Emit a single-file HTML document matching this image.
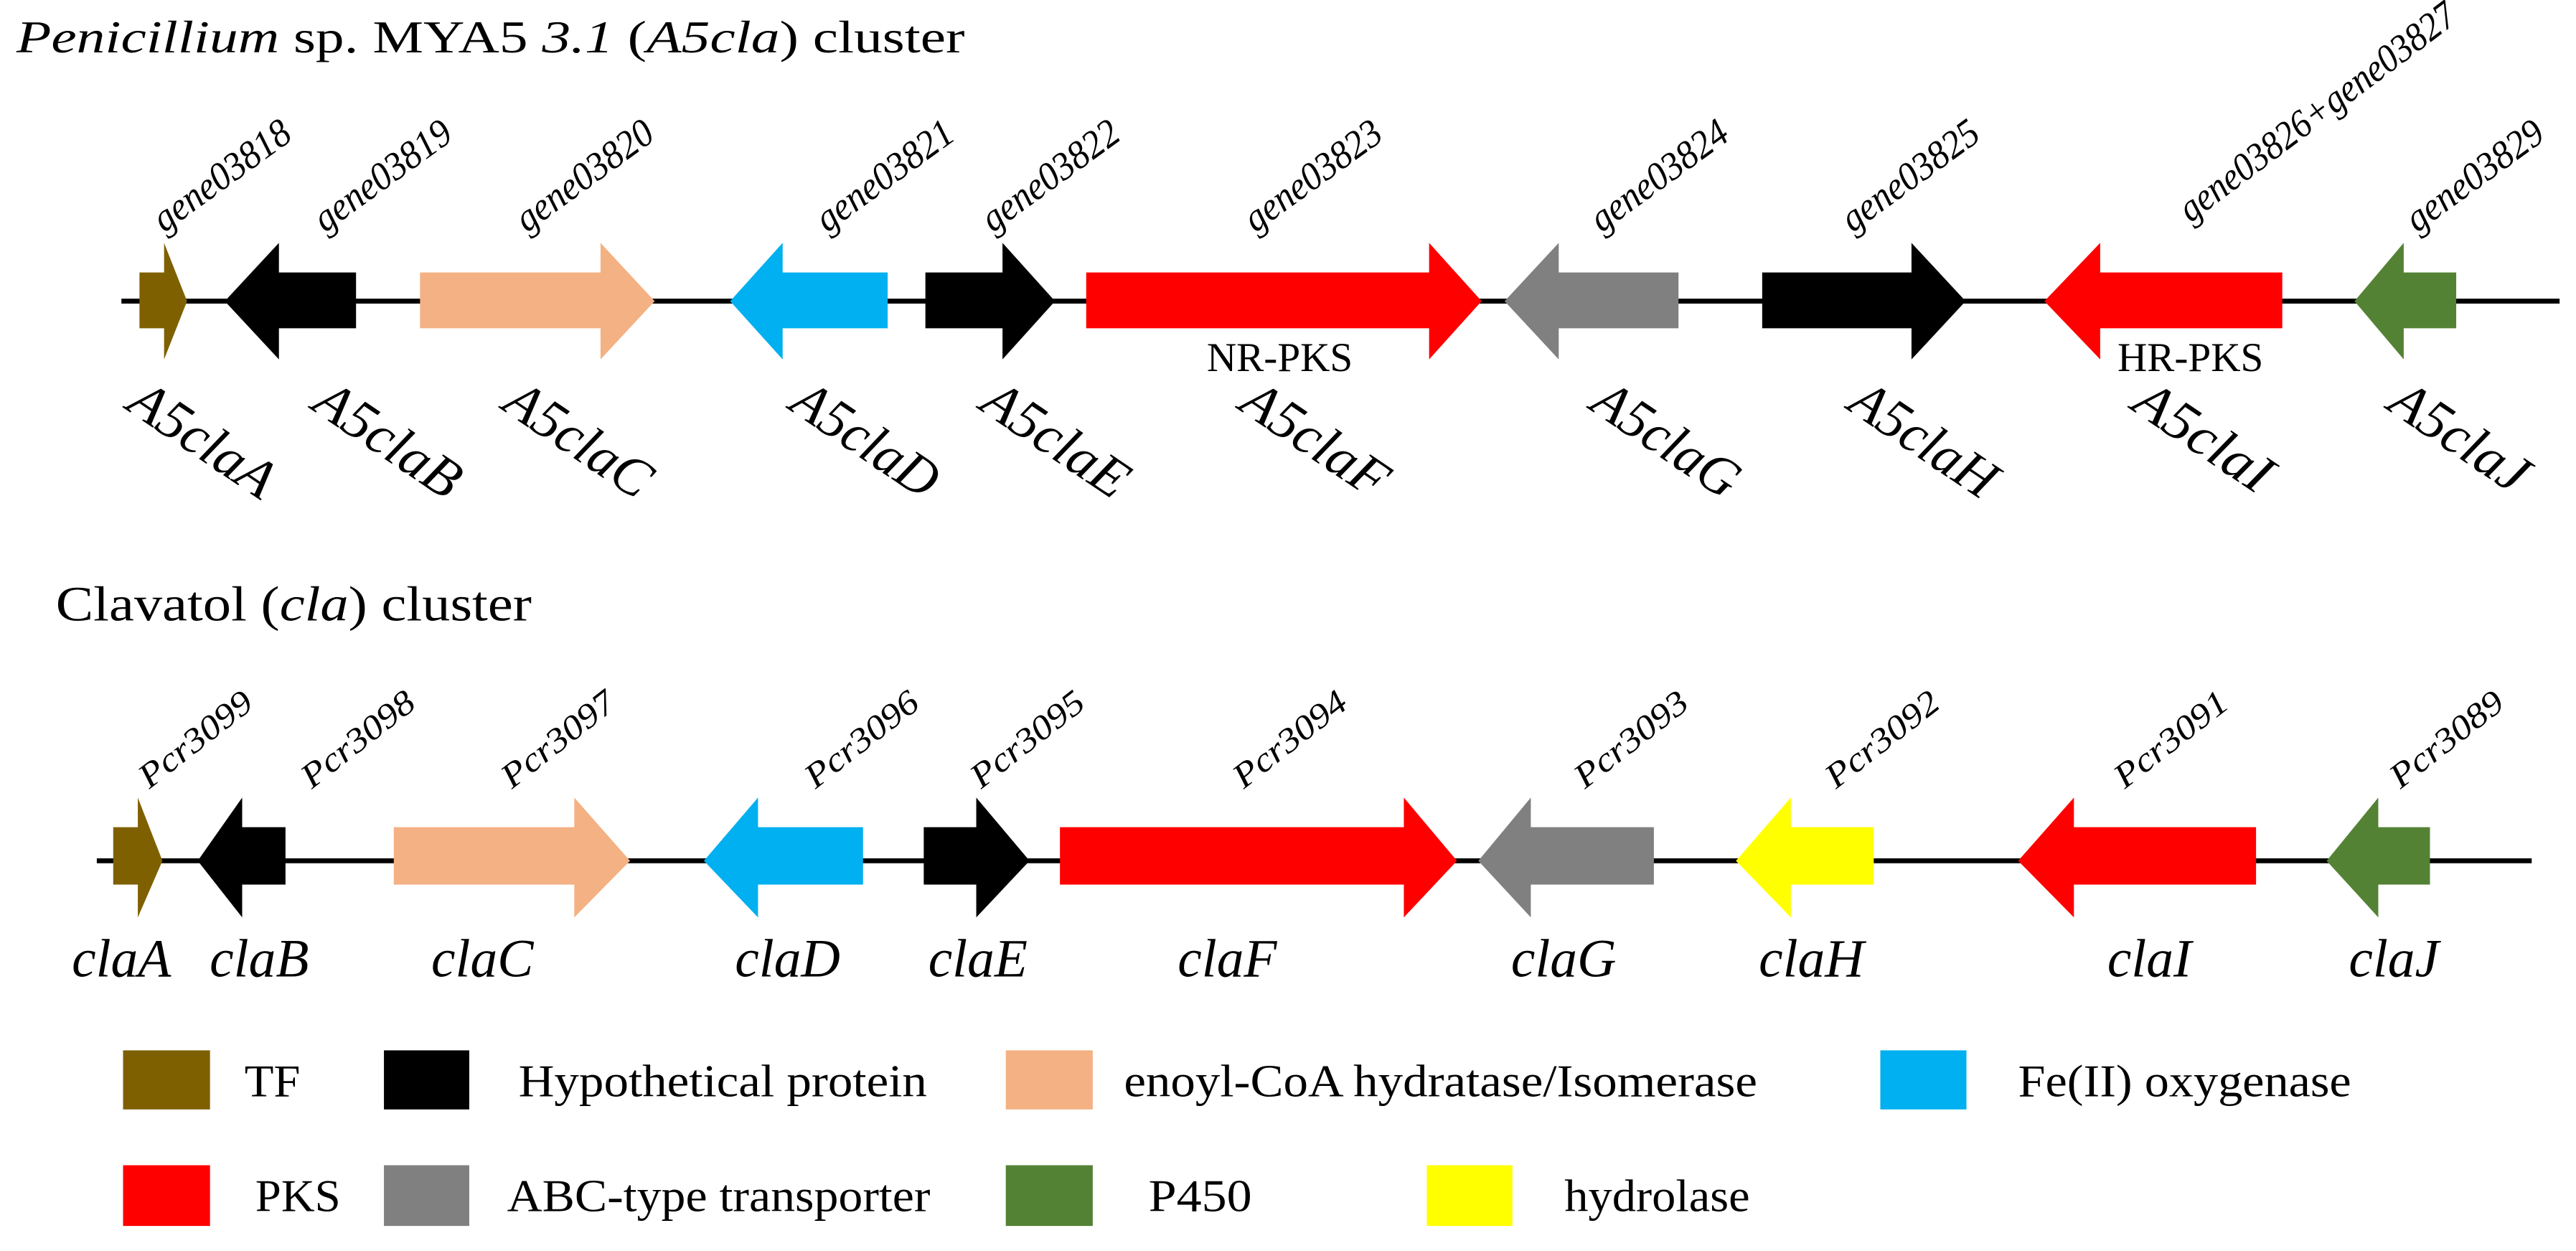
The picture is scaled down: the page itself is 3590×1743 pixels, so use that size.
<!DOCTYPE html>
<html><head><meta charset="utf-8"><style>html,body{margin:0;padding:0;background:#fff}svg{display:block}</style></head>
<body>
<svg width="3590" height="1743" viewBox="0 0 1570 762.26" xmlns="http://www.w3.org/2000/svg" font-family="'Liberation Serif', serif">
<rect width="1570" height="762.26" fill="#fff"/>
<text x="10" y="32" font-size="28" textLength="578" lengthAdjust="spacingAndGlyphs"><tspan font-style="italic">Penicillium</tspan> sp. MYA5  <tspan font-style="italic">3.1</tspan> (<tspan font-style="italic">A5cla</tspan>) cluster</text>
<line x1="74" y1="183.5" x2="1560" y2="183.5" stroke="#000" stroke-width="3"/>
<g>
<polygon fill="#7f6000" points="85,166 100,166 100,148 114,183.5 100,219 100,200 85,200"/>
<polygon fill="#000" points="217,166 170,166 170,148 137,183.5 170,219 170,200 217,200"/>
<polygon fill="#f4b183" points="256,166 366,166 366,148 399,183.5 366,219 366,200 256,200"/>
<polygon fill="#00b0f0" points="541,166 477,166 477,148 445,183.5 477,219 477,200 541,200"/>
<polygon fill="#000" points="564,166 611,166 611,148 643,183.5 611,219 611,200 564,200"/>
<polygon fill="#ff0000" points="662,166 871,166 871,148 903,183.5 871,219 871,200 662,200"/>
<polygon fill="#808080" points="1023,166 950,166 950,148 917,183.5 950,219 950,200 1023,200"/>
<polygon fill="#000" points="1074,166 1165,166 1165,148 1198,183.5 1165,219 1165,200 1074,200"/>
<polygon fill="#ff0000" points="1391,166 1280,166 1280,148 1246,183.5 1280,219 1280,200 1391,200"/>
<polygon fill="#548235" points="1497,166 1465,166 1465,148 1435,183.5 1465,219 1465,200 1497,200"/>
</g>
<g font-style="italic" font-size="24">
<text transform="translate(100,142) rotate(-36)" textLength="98" lengthAdjust="spacingAndGlyphs">gene03818</text>
<text transform="translate(198,142) rotate(-36)" textLength="98" lengthAdjust="spacingAndGlyphs">gene03819</text>
<text transform="translate(321,142) rotate(-36)" textLength="98" lengthAdjust="spacingAndGlyphs">gene03820</text>
<text transform="translate(504,142) rotate(-36)" textLength="98" lengthAdjust="spacingAndGlyphs">gene03821</text>
<text transform="translate(605,142) rotate(-36)" textLength="98" lengthAdjust="spacingAndGlyphs">gene03822</text>
<text transform="translate(765,142) rotate(-36)" textLength="98" lengthAdjust="spacingAndGlyphs">gene03823</text>
<text transform="translate(976,142) rotate(-36)" textLength="98" lengthAdjust="spacingAndGlyphs">gene03824</text>
<text transform="translate(1129,142) rotate(-36)" textLength="98" lengthAdjust="spacingAndGlyphs">gene03825</text>
<text transform="translate(1335,136) rotate(-37)" textLength="205" lengthAdjust="spacingAndGlyphs">gene03826+gene03827</text>
<text transform="translate(1473,142) rotate(-36)" textLength="98" lengthAdjust="spacingAndGlyphs">gene03829</text>
</g>
<text x="780" y="226" font-size="25" text-anchor="middle">NR-PKS</text>
<text x="1335" y="226" font-size="25" text-anchor="middle">HR-PKS</text>
<g font-style="italic" font-size="34">
<text transform="translate(76,249) rotate(34)" textLength="100" lengthAdjust="spacingAndGlyphs">A5claA</text>
<text transform="translate(189,249) rotate(34)" textLength="100" lengthAdjust="spacingAndGlyphs">A5claB</text>
<text transform="translate(305,249) rotate(34)" textLength="100" lengthAdjust="spacingAndGlyphs">A5claC</text>
<text transform="translate(480,249) rotate(34)" textLength="100" lengthAdjust="spacingAndGlyphs">A5claD</text>
<text transform="translate(596,249) rotate(34)" textLength="100" lengthAdjust="spacingAndGlyphs">A5claE</text>
<text transform="translate(754,249) rotate(34)" textLength="100" lengthAdjust="spacingAndGlyphs">A5claF</text>
<text transform="translate(968,249) rotate(34)" textLength="100" lengthAdjust="spacingAndGlyphs">A5claG</text>
<text transform="translate(1125,249) rotate(34)" textLength="100" lengthAdjust="spacingAndGlyphs">A5claH</text>
<text transform="translate(1298,249) rotate(34)" textLength="94" lengthAdjust="spacingAndGlyphs">A5claI</text>
<text transform="translate(1454,249) rotate(34)" textLength="94" lengthAdjust="spacingAndGlyphs">A5claJ</text>
</g>

<text x="34" y="378" font-size="30" textLength="290" lengthAdjust="spacingAndGlyphs">Clavatol (<tspan font-style="italic">cla</tspan>) cluster</text>
<line x1="59" y1="524.5" x2="1543" y2="524.5" stroke="#000" stroke-width="3"/>
<g>
<polygon fill="#7f6000" points="69,504 84,504 84,486 99,524.5 84,559 84,539 69,539"/>
<polygon fill="#000" points="174,504 147.6,504 147.6,486 120.5,524.5 147.6,559 147.6,539 174,539"/>
<polygon fill="#f4b183" points="240,504 350,504 350,486 384,524.5 350,559 350,539 240,539"/>
<polygon fill="#00b0f0" points="526,504 462,504 462,486 429,524.5 462,559 462,539 526,539"/>
<polygon fill="#000" points="563,504 595,504 595,486 627.5,524.5 595,559 595,539 563,539"/>
<polygon fill="#ff0000" points="646,504 855.6,504 855.6,486 888,524.5 855.6,559 855.6,539 646,539"/>
<polygon fill="#808080" points="1008,504 933,504 933,486 901,524.5 933,559 933,539 1008,539"/>
<polygon fill="#ffff00" points="1142,504 1091.5,504 1091.5,486 1058,524.5 1091.5,559 1091.5,539 1142,539"/>
<polygon fill="#ff0000" points="1375,504 1264,504 1264,486 1230,524.5 1264,559 1264,539 1375,539"/>
<polygon fill="#548235" points="1481,504 1449.5,504 1449.5,486 1418,524.5 1449.5,559 1449.5,539 1481,539"/>
</g>
<g font-style="italic" font-size="21">
<text transform="translate(91,481) rotate(-38)" textLength="82" lengthAdjust="spacingAndGlyphs">Pcr3099</text>
<text transform="translate(190,481) rotate(-38)" textLength="82" lengthAdjust="spacingAndGlyphs">Pcr3098</text>
<text transform="translate(312,481) rotate(-38)" textLength="82" lengthAdjust="spacingAndGlyphs">Pcr3097</text>
<text transform="translate(497,481) rotate(-38)" textLength="82" lengthAdjust="spacingAndGlyphs">Pcr3096</text>
<text transform="translate(598,481) rotate(-38)" textLength="82" lengthAdjust="spacingAndGlyphs">Pcr3095</text>
<text transform="translate(758,481) rotate(-38)" textLength="82" lengthAdjust="spacingAndGlyphs">Pcr3094</text>
<text transform="translate(966,481) rotate(-38)" textLength="82" lengthAdjust="spacingAndGlyphs">Pcr3093</text>
<text transform="translate(1119,481) rotate(-38)" textLength="82" lengthAdjust="spacingAndGlyphs">Pcr3092</text>
<text transform="translate(1295,481) rotate(-38)" textLength="82" lengthAdjust="spacingAndGlyphs">Pcr3091</text>
<text transform="translate(1463,481) rotate(-38)" textLength="82" lengthAdjust="spacingAndGlyphs">Pcr3089</text>
</g>
<g font-style="italic" font-size="33" text-anchor="middle">
<text x="74" y="595">claA</text>
<text x="158" y="595">claB</text>
<text x="294" y="595">claC</text>
<text x="480" y="595">claD</text>
<text x="596" y="595">claE</text>
<text x="748" y="595">claF</text>
<text x="953" y="595">claG</text>
<text x="1104" y="595">claH</text>
<text x="1310" y="595">claI</text>
<text x="1459" y="595">claJ</text>
</g>

<g>
<rect x="75" y="640" width="53" height="36" fill="#7f6000"/>
<rect x="234" y="640" width="52" height="36" fill="#000"/>
<rect x="613" y="640" width="53" height="36" fill="#f4b183"/>
<rect x="1146" y="640" width="52.5" height="36" fill="#00b0f0"/>
<rect x="75" y="710" width="53" height="37" fill="#ff0000"/>
<rect x="234" y="710" width="52" height="37" fill="#808080"/>
<rect x="613" y="710" width="53" height="37" fill="#548235"/>
<rect x="869.6" y="710" width="52.2" height="37" fill="#ffff00"/>
</g>
<g font-size="28">
<text x="149" y="668" textLength="34" lengthAdjust="spacingAndGlyphs">TF</text>
<text x="316" y="668" textLength="249" lengthAdjust="spacingAndGlyphs">Hypothetical  protein</text>
<text x="685" y="668" textLength="386" lengthAdjust="spacingAndGlyphs">enoyl-CoA  hydratase/Isomerase</text>
<text x="1230" y="668" textLength="203" lengthAdjust="spacingAndGlyphs">Fe(II) oxygenase</text>
<text x="155.6" y="738" textLength="52" lengthAdjust="spacingAndGlyphs">PKS</text>
<text x="309" y="738" textLength="258" lengthAdjust="spacingAndGlyphs">ABC-type  transporter</text>
<text x="700" y="738" textLength="63" lengthAdjust="spacingAndGlyphs">P450</text>
<text x="953.5" y="738" textLength="113" lengthAdjust="spacingAndGlyphs">hydrolase</text>
</g>
</svg>
</body></html>
